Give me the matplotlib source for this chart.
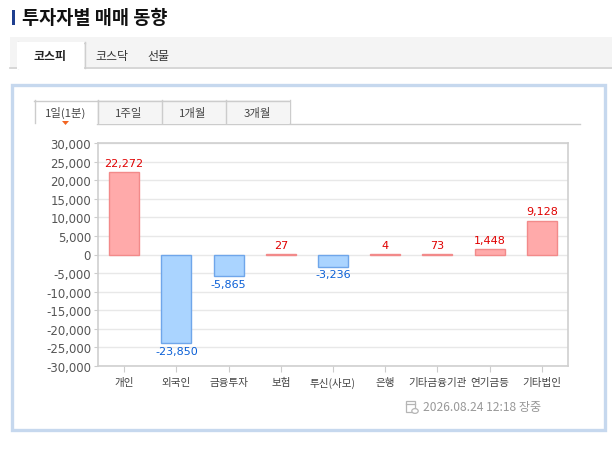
import matplotlib
matplotlib.use("Agg")
import matplotlib.pyplot as plt
from matplotlib.patches import Rectangle, Polygon
from matplotlib.lines import Line2D
import numpy as np

plt.rcParams['font.family'] = ['Noto Sans CJK KR', 'DejaVu Sans']

# ---- data ----
title = "투자자별 매매 동향"
market_tabs = ["코스피", "코스닥", "선물"]
period_tabs = ["1일(1분)", "1주일", "1개월", "3개월"]
categories = ["개인", "외국인", "금융투자", "보험", "투신(사모)", "은행", "기타금융기관", "연기금등", "기타법인"]
values = [22272, -23850, -5865, 27, -3236, 4, 73, 1448, 9128]
y_ticks = [30000, 25000, 20000, 15000, 10000, 5000, 0, -5000, -10000, -15000, -20000, -25000, -30000]
timestamp = "2026.08.24 12:18 장중"

W, H = 612, 452
fig = plt.figure(figsize=(W / 100, H / 100), dpi=100)
fig.patch.set_facecolor("white")

def fx(x):
    return x / W

def fy(y):
    return 1 - y / H

def rect(x0, y0, x1, y1, **kw):
    fig.patches.append(Rectangle((fx(x0), fy(y1)), fx(x1) - fx(x0), fy(y0) - fy(y1),
                                 transform=fig.transFigure, **kw))

def hline(x0, x1, y, color, lw=1.0):
    fig.lines.append(Line2D([fx(x0), fx(x1)], [fy(y), fy(y)], transform=fig.transFigure,
                            color=color, lw=lw))

def vline(x, y0, y1, color, lw=1.0):
    fig.lines.append(Line2D([fx(x), fx(x)], [fy(y0), fy(y1)], transform=fig.transFigure,
                            color=color, lw=lw))

# ---- header ----
rect(12, 11, 15, 26, facecolor="#1f3f8f", edgecolor="none")
fig.text(fx(22), fy(18.5), title, fontsize=13.4, fontweight="bold", color="#111111",
         va="center", ha="left")

# market tab bar
rect(10, 38, 612, 68, facecolor="#f4f4f4", edgecolor="none")
hline(10, 612, 68.5, "#cfcfcf", 1.2)
rect(17, 43, 84, 69.5, facecolor="white", edgecolor="none", zorder=3)
vline(17.5, 43, 69, "#cfcfcf")
vline(84.5, 43, 69, "#cfcfcf")
hline(17.5, 84.5, 43.5, "#cfcfcf")
fig.text(fx(50.5), fy(56.5), market_tabs[0], fontsize=8.6, fontweight="bold", color="#222222",
         ha="center", va="center", zorder=4)
fig.text(fx(112), fy(56.5), market_tabs[1], fontsize=8.6, color="#333333", ha="center", va="center")
fig.text(fx(158), fy(56.5), market_tabs[2], fontsize=8.6, color="#333333", ha="center", va="center")

# outer light-blue box
rect(11.5, 85.5, 604.5, 430.5, facecolor="white", edgecolor="#c6d8ee", lw=2.4)

# period tabs
tab_x = [34, 97, 161, 225, 289]
for i, name in enumerate(period_tabs):
    x0, x1 = tab_x[i], tab_x[i + 1]
    fc = "white" if i == 0 else "#f5f5f5"
    rect(x0, 101, x1, 124, facecolor=fc, edgecolor="none")
    fig.text(fx((x0 + x1) / 2), fy(113), name, fontsize=8.2, color="#444444",
             ha="center", va="center")
for xx in tab_x:
    vline(xx + 0.5, 101, 124, "#cccccc")
hline(34, 289, 101.5, "#cccccc")
hline(97, 580, 124.5, "#cccccc")
fig.patches.append(Polygon([[fx(62), fy(122)], [fx(69), fy(122)], [fx(65.5), fy(126)]],
                           closed=True, transform=fig.transFigure, facecolor="#f26522",
                           edgecolor="none"))

# ---- chart ----
ax = fig.add_axes([fx(98), fy(367), fx(568) - fx(98), fy(144) - fy(367)])
ax.set_zorder(5)
x = np.arange(len(categories))
pos_fc, pos_ec = "#ffaaaa", "#f28a8a"
neg_fc, neg_ec = "#aad4ff", "#6fa6ea"
fcs = [pos_fc if v >= 0 else neg_fc for v in values]
ecs = [pos_ec if v >= 0 else neg_ec for v in values]
ax.bar(x, values, width=0.575, color=fcs, edgecolor=ecs, linewidth=1.0, zorder=3)

for xi, v in zip(x, values):
    lab = f"{v:,}"
    if v >= 0:
        ax.annotate(lab, (xi, v), xytext=(0, 3), textcoords="offset points",
                    ha="center", va="bottom", fontsize=8.0, color="#e00000",
                    family=['DejaVu Sans'])
    else:
        ax.annotate(lab, (xi, v), xytext=(0, -2), textcoords="offset points",
                    ha="center", va="top", fontsize=8.0, color="#0a5fd6",
                    family=['DejaVu Sans'])

ax.set_xlim(-0.5, len(categories) - 0.5)
ax.set_ylim(-30000, 30000)
ax.set_yticks(y_ticks)
ax.set_yticklabels([f"{t:,}" for t in y_ticks], fontsize=8.5, color="#555555",
                   family=['DejaVu Sans'])
ax.set_xticks(x)
ax.set_xticklabels(categories, fontsize=7.6, color="#444444")
ax.tick_params(axis="y", length=3, color="#cccccc", pad=2)
ax.tick_params(axis="x", length=4, color="#cccccc", pad=4)
ax.grid(axis="y", color="#e8e8e8", lw=1.0, zorder=0)
ax.set_axisbelow(True)
for s in ["left", "bottom", "top", "right"]:
    ax.spines[s].set_color("#cfcfcf")
    ax.spines[s].set_linewidth(1.2)

# ---- timestamp ----
ix, iy = 406, 402
rect(ix, iy, ix + 9, iy + 11, facecolor="white", edgecolor="#b5b5b5", lw=0.9)
hline(ix, ix + 9, iy + 3, "#b5b5b5", 0.9)
fig.patches.append(plt.Circle((fx(ix + 9), fy(iy + 10)), 3.2 / W, transform=fig.transFigure,
                              facecolor="white", edgecolor="#b5b5b5", lw=0.9))
fig.text(fx(423), fy(407.5), timestamp, fontsize=8.7, color="#999999", ha="left", va="center")

fig.savefig("out.png", dpi=100)
